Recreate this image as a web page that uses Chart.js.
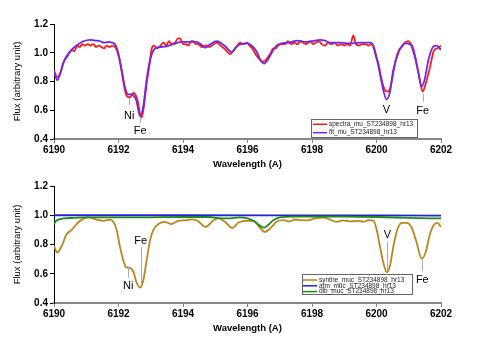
<!DOCTYPE html>
<html>
<head>
<meta charset="utf-8">
<script src="https://cdn.jsdelivr.net/npm/chart.js@4.4.1/dist/chart.umd.min.js"></script>
<style>
html, body { margin: 0; padding: 0; background: #fff; }
canvas { position: absolute; left: 0; }
#topChart { top: 0; }
#bottomChart { top: 172px; }
</style>
</head>
<body>
<canvas id="topChart" width="491" height="172"></canvas>
<canvas id="bottomChart" width="491" height="175"></canvas>
<script>
// wavelength / flux
const spectraWave = [6190.00, 6190.10, 6190.18, 6190.29, 6190.40, 6190.48, 6190.56, 6190.63, 6190.72, 6190.80, 6190.88, 6190.96, 6191.05, 6191.13, 6191.22, 6191.30, 6191.38, 6191.47, 6191.55, 6191.63, 6191.72, 6191.82, 6191.92, 6192.00, 6192.05, 6192.15, 6192.25, 6192.36, 6192.46, 6192.52, 6192.60, 6192.67, 6192.72, 6192.79, 6192.87, 6192.95, 6193.03, 6193.10, 6193.20, 6193.30, 6193.40, 6193.48, 6193.56, 6193.65, 6193.75, 6193.85, 6193.91, 6194.00, 6194.08, 6194.17, 6194.25, 6194.32, 6194.40, 6194.47, 6194.58, 6194.65, 6194.73, 6194.82, 6194.90, 6195.04, 6195.12, 6195.22, 6195.32, 6195.40, 6195.46, 6195.55, 6195.65, 6195.77, 6195.87, 6195.98, 6196.06, 6196.15, 6196.25, 6196.35, 6196.46, 6196.52, 6196.60, 6196.70, 6196.80, 6196.87, 6196.95, 6197.05, 6197.16, 6197.25, 6197.35, 6197.45, 6197.55, 6197.63, 6197.72, 6197.83, 6197.94, 6198.04, 6198.12, 6198.22, 6198.30, 6198.40, 6198.50, 6198.60, 6198.70, 6198.80, 6198.90, 6199.00, 6199.10, 6199.18, 6199.28, 6199.36, 6199.46, 6199.55, 6199.65, 6199.75, 6199.85, 6199.92, 6200.00, 6200.05, 6200.16, 6200.26, 6200.33, 6200.42, 6200.52, 6200.62, 6200.70, 6200.78, 6200.88, 6200.99, 6201.07, 6201.14, 6201.24, 6201.35, 6201.43, 6201.53, 6201.66, 6201.77, 6201.87, 6201.95, 6202.00];
const spectraFlux = [0.88, 0.83, 0.85, 0.93, 0.97, 1.00, 1.02, 1.01, 1.05, 1.04, 1.06, 1.05, 1.06, 1.05, 1.06, 1.04, 1.05, 1.04, 1.03, 1.05, 1.04, 1.05, 1.03, 0.98, 0.93, 0.80, 0.70, 0.69, 0.72, 0.71, 0.66, 0.57, 0.55, 0.63, 0.78, 0.90, 1.03, 1.05, 1.03, 1.05, 1.07, 1.05, 1.08, 1.06, 1.07, 1.10, 1.10, 1.06, 1.06, 1.05, 1.08, 1.08, 1.06, 1.06, 1.04, 1.05, 1.05, 1.04, 1.05, 1.07, 1.06, 1.04, 1.02, 1.00, 0.99, 1.01, 1.04, 1.07, 1.06, 1.07, 1.05, 1.03, 0.99, 0.96, 0.94, 0.94, 0.96, 0.99, 1.03, 1.03, 1.05, 1.06, 1.06, 1.08, 1.06, 1.07, 1.06, 1.08, 1.07, 1.06, 1.08, 1.06, 1.07, 1.08, 1.06, 1.05, 1.07, 1.06, 1.07, 1.05, 1.06, 1.05, 1.06, 1.05, 1.12, 1.06, 1.05, 1.06, 1.06, 1.05, 1.06, 1.03, 0.96, 0.93, 0.81, 0.74, 0.73, 0.75, 0.86, 0.97, 1.02, 1.04, 1.07, 1.08, 1.06, 1.03, 0.93, 0.80, 0.73, 0.79, 0.90, 1.01, 1.03, 1.04, 1.05];

const fitWave = [6190.00, 6190.10, 6190.20, 6190.29, 6190.40, 6190.50, 6190.70, 6190.91, 6191.12, 6191.30, 6191.43, 6191.55, 6191.68, 6191.80, 6191.89, 6191.99, 6192.10, 6192.20, 6192.30, 6192.40, 6192.47, 6192.55, 6192.67, 6192.77, 6192.87, 6192.98, 6193.13, 6193.29, 6193.49, 6193.70, 6193.96, 6194.20, 6194.40, 6194.55, 6194.68, 6194.85, 6195.04, 6195.20, 6195.33, 6195.51, 6195.65, 6195.77, 6196.00, 6196.15, 6196.29, 6196.40, 6196.52, 6196.64, 6196.75, 6196.90, 6197.05, 6197.26, 6197.45, 6197.57, 6197.80, 6198.00, 6198.25, 6198.40, 6198.56, 6198.87, 6199.18, 6199.50, 6199.80, 6199.90, 6200.00, 6200.11, 6200.21, 6200.31, 6200.42, 6200.52, 6200.68, 6200.88, 6201.04, 6201.19, 6201.30, 6201.40, 6201.50, 6201.61, 6201.77, 6201.87, 6202.00];
const fitFlux = [0.87, 0.81, 0.86, 0.93, 0.98, 1.01, 1.05, 1.08, 1.09, 1.085, 1.08, 1.07, 1.075, 1.07, 1.06, 1.00, 0.88, 0.76, 0.71, 0.71, 0.70, 0.67, 0.56, 0.63, 0.81, 0.95, 1.03, 1.04, 1.045, 1.06, 1.075, 1.075, 1.075, 1.06, 1.035, 1.06, 1.08, 1.065, 1.04, 1.005, 1.04, 1.06, 1.065, 1.045, 1.005, 0.95, 0.925, 0.955, 1.00, 1.05, 1.065, 1.07, 1.08, 1.085, 1.075, 1.08, 1.09, 1.085, 1.07, 1.07, 1.065, 1.07, 1.07, 1.05, 0.97, 0.85, 0.74, 0.675, 0.73, 0.88, 1.00, 1.065, 1.06, 0.97, 0.86, 0.765, 0.82, 0.95, 1.045, 1.05, 1.02];

const syntheWave = [6190.00, 6190.10, 6190.24, 6190.39, 6190.55, 6190.70, 6190.86, 6191.07, 6191.32, 6191.53, 6191.74, 6191.84, 6191.94, 6192.05, 6192.15, 6192.23, 6192.36, 6192.46, 6192.56, 6192.67, 6192.77, 6192.87, 6192.98, 6193.08, 6193.24, 6193.44, 6193.64, 6193.85, 6194.06, 6194.27, 6194.45, 6194.70, 6194.93, 6195.09, 6195.30, 6195.53, 6195.72, 6195.92, 6196.18, 6196.33, 6196.54, 6196.75, 6196.90, 6197.11, 6197.30, 6197.47, 6197.63, 6197.85, 6198.09, 6198.35, 6198.55, 6198.76, 6198.95, 6199.18, 6199.40, 6199.60, 6199.75, 6199.91, 6200.01, 6200.11, 6200.22, 6200.32, 6200.42, 6200.52, 6200.64, 6200.78, 6200.93, 6201.09, 6201.24, 6201.40, 6201.53, 6201.64, 6201.77, 6201.89, 6202.00];
const syntheFlux = [0.79, 0.745, 0.79, 0.87, 0.90, 0.94, 0.97, 0.985, 0.97, 0.962, 0.97, 0.955, 0.90, 0.78, 0.69, 0.645, 0.64, 0.615, 0.54, 0.505, 0.555, 0.69, 0.83, 0.90, 0.94, 0.955, 0.94, 0.962, 0.965, 0.972, 0.962, 0.92, 0.962, 0.978, 0.955, 0.913, 0.95, 0.962, 0.962, 0.93, 0.886, 0.92, 0.955, 0.966, 0.958, 0.971, 0.966, 0.965, 0.978, 0.984, 0.972, 0.955, 0.965, 0.958, 0.962, 0.956, 0.966, 0.962, 0.897, 0.783, 0.668, 0.611, 0.657, 0.783, 0.897, 0.948, 0.948, 0.916, 0.817, 0.703, 0.75, 0.858, 0.932, 0.948, 0.92];

const atmWave = [6190.00, 6194.00, 6198.00, 6202.00];
const atmFlux = [1.000, 1.000, 0.999, 0.998];

const dibWave = [6190.00, 6190.06, 6190.13, 6190.30, 6190.60, 6191.00, 6192.00, 6193.00, 6194.00, 6194.80, 6195.10, 6195.40, 6195.75, 6196.00, 6196.20, 6196.35, 6196.50, 6196.65, 6196.80, 6197.00, 6197.40, 6198.00, 6199.00, 6200.00, 6201.00, 6202.00];
const dibFlux = [0.94, 0.96, 0.97, 0.978, 0.982, 0.985, 0.985, 0.986, 0.988, 0.988, 0.98, 0.978, 0.985, 0.978, 0.96, 0.935, 0.915, 0.935, 0.965, 0.985, 0.99, 0.99, 0.99, 0.988, 0.982, 0.978];

// line labels: text, wavelength, text flux, tick from/to flux
const topNoteText = ['Ni', 'Fe', 'V', 'Fe'];
const topNoteWave = [6192.33, 6192.67, 6200.31, 6201.43];
const topNoteTextFlux = [0.562, 0.456, 0.602, 0.597];
const topNoteFrom = [0.685, 0.546, null, 0.713];
const topNoteTo = [0.636, 0.511, null, 0.66];

const botNoteText = ['Ni', 'Fe', 'V', 'Fe'];
const botNoteWave = [6192.30, 6192.69, 6200.34, 6201.42];
const botNoteTextFlux = [0.519, 0.822, 0.863, 0.558];
const botNoteFrom = [0.645, 0.783, 0.817, 0.696];
const botNoteTo = [0.572, 0.531, 0.622, 0.617];

const xTicks = [6190, 6192, 6194, 6196, 6198, 6200, 6202];

const FONT = '"Liberation Sans", Arial, sans-serif';

function pts(w, f) { return w.map((x, i) => ({ x: x, y: f[i] })); }

const notesPlugin = {
  id: 'notes',
  afterDatasetsDraw(chart, args, opts) {
    const ctx = chart.ctx, xs = chart.scales.x, ys = chart.scales.y;
    ctx.save();
    for (let i = 0; i < opts.text.length; i++) {
      const px = Math.round(xs.getPixelForValue(opts.wave[i])) + 0.5;
      if (opts.from[i] !== null) {
        ctx.strokeStyle = '#aaa';
        ctx.lineWidth = 1;
        ctx.beginPath();
        ctx.moveTo(px, ys.getPixelForValue(opts.from[i]));
        ctx.lineTo(px, ys.getPixelForValue(opts.to[i]));
        ctx.stroke();
      }
      ctx.fillStyle = '#000';
      ctx.font = '11px ' + FONT;
      ctx.textAlign = 'center';
      ctx.textBaseline = 'middle';
      ctx.fillText(opts.text[i], xs.getPixelForValue(opts.wave[i]), ys.getPixelForValue(opts.textFlux[i]));
    }
    ctx.restore();
  }
};

const boxLegend = {
  id: 'boxLegend',
  afterDraw(chart, args, o) {
    const ctx = chart.ctx;
    ctx.save();
    ctx.fillStyle = '#fff';
    ctx.fillRect(o.left, o.top, o.width, o.height);
    ctx.strokeStyle = '#666';
    ctx.lineWidth = 1;
    ctx.strokeRect(o.left + 0.5, o.top + 0.5, o.width, o.height);
    ctx.font = '6.5px ' + FONT;
    ctx.textBaseline = 'middle';
    chart.data.datasets.forEach((ds, i) => {
      const yy = o.top + o.first + i * o.gap;
      ctx.strokeStyle = ds.borderColor;
      ctx.lineWidth = 1.5;
      ctx.beginPath();
      ctx.moveTo(o.left + o.lineX, yy);
      ctx.lineTo(o.left + o.lineX + 14, yy);
      ctx.stroke();
      ctx.fillStyle = '#222';
      ctx.fillText(ds.label, o.left + o.lineX + 16, yy);
    });
    ctx.restore();
  }
};

function makeChart(id, datasets, pad, legend, notes) {
  return new Chart(document.getElementById(id), {
    type: 'line',
    data: { datasets: datasets },
    plugins: [notesPlugin, boxLegend],
    options: {
      responsive: false,
      animation: false,
      devicePixelRatio: 1,
      layout: { padding: pad },
      elements: { point: { radius: 0 } },
      plugins: {
        legend: { display: false },
        tooltip: { enabled: false },
        notes: notes,
        boxLegend: legend
      },
      scales: {
        x: {
          type: 'linear',
          min: 6190,
          max: 6202,
          afterBuildTicks: s => { s.ticks = xTicks.map(v => ({ value: v })); },
          afterFit: s => { s.height = 33; },
          ticks: {
            color: '#000',
            padding: 1,
            maxRotation: 0,
            font: { family: FONT, size: 10, weight: 'bold' },
            callback: v => String(v)
          },
          grid: { drawOnChartArea: false, drawTicks: true, tickLength: 4, color: '#888' },
          border: { display: true, color: '#888', width: 2 },
          title: {
            display: true,
            text: 'Wavelength (A)',
            color: '#000',
            padding: { top: 0, bottom: 2 },
            font: { family: FONT, size: 9.5, weight: 'bold' }
          }
        },
        y: {
          min: 0.4,
          max: 1.2,
          afterFit: s => { s.width = 54; },
          ticks: {
            stepSize: 0.2,
            color: '#000',
            padding: 2,
            font: { family: FONT, size: 10, weight: 'bold' },
            callback: v => Number(v).toFixed(1)
          },
          grid: { drawOnChartArea: false, drawTicks: true, tickLength: 4, color: '#000' },
          border: { display: true, color: '#000', width: 1 },
          title: {
            display: true,
            text: 'Flux (arbitrary unit)',
            color: '#000',
            padding: { top: 12, bottom: 0 },
            font: { family: FONT, size: 9.5 }
          }
        }
      }
    }
  });
}

makeChart('topChart', [
  { label: 'spectra_mu_ST234898_hr13', data: pts(spectraWave, spectraFlux), borderColor: '#ff1a1a', borderWidth: 1.8, cubicInterpolationMode: 'monotone', order: 1 },
  { label: 'fit_mu_ST234898_hr13', data: pts(fitWave, fitFlux), borderColor: '#7028e4', borderWidth: 1.8, cubicInterpolationMode: 'monotone', order: 0 }
], { top: 24, right: 50, bottom: 0, left: 0 },
{ left: 311, top: 119, width: 106, height: 18, first: 5.3, gap: 8.4, lineX: 2 },
{ text: topNoteText, wave: topNoteWave, textFlux: topNoteTextFlux, from: topNoteFrom, to: topNoteTo });

makeChart('bottomChart', [
  { label: 'synthe_muc_ST234898_hr13', data: pts(syntheWave, syntheFlux), borderColor: '#b8861e', borderWidth: 1.8, cubicInterpolationMode: 'monotone', order: 2 },
  { label: 'atm_muc_ST234898_hr13', data: pts(atmWave, atmFlux), borderColor: '#2222d8', borderWidth: 1.8, cubicInterpolationMode: 'monotone', order: 1 },
  { label: 'dib_muc_ST234898_hr13', data: pts(dibWave, dibFlux), borderColor: '#1e8a1e', borderWidth: 1.8, cubicInterpolationMode: 'monotone', order: 0 }
], { top: 14, right: 50, bottom: 11, left: 0 },
{ left: 302, top: 102, width: 110, height: 20, first: 6, gap: 5.8, lineX: 1 },
{ text: botNoteText, wave: botNoteWave, textFlux: botNoteTextFlux, from: botNoteFrom, to: botNoteTo });
</script>
</body>
</html>
